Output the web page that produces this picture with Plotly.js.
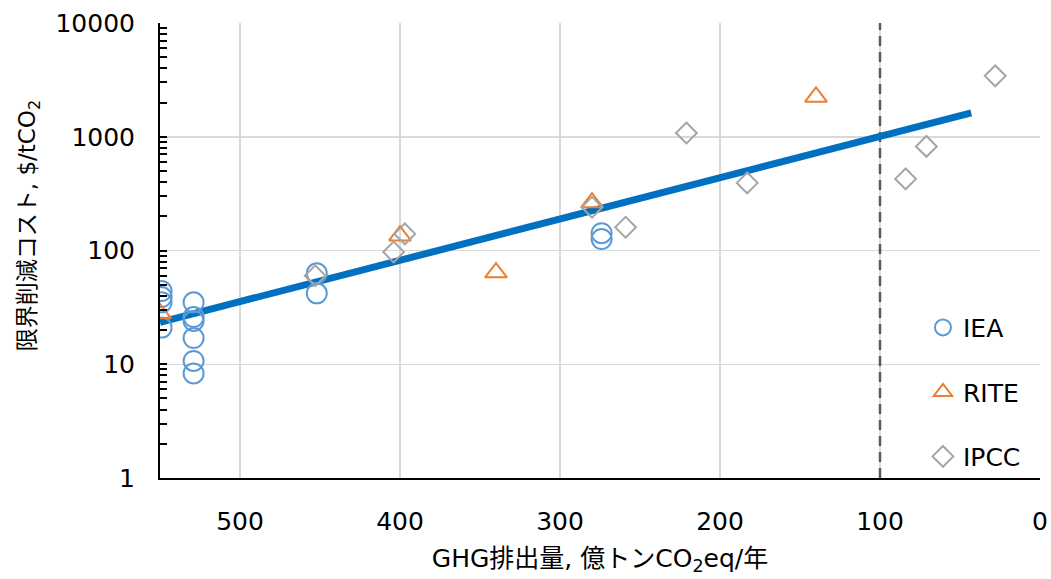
<!DOCTYPE html>
<html>
<head>
<meta charset="utf-8">
<script src="https://cdn.plot.ly/plotly-3.0.1.min.js"></script>
<style>html,body{margin:0;padding:0;background:#fff}#chart{width:1051px;height:579px}</style>
</head>
<body>
<div id="chart"></div>
<script>
// IEA (circles)
const ieaX = [549, 549, 549, 549, 529, 529, 529, 529, 529, 529, 452, 452, 274, 274];
const ieaY = [44, 39, 35, 21, 35, 26, 24, 17, 10.7, 8.3, 63, 42, 142, 126];
// RITE (triangles)
const riteX = [550, 400, 340, 280, 140];
const riteY = [28, 135, 64, 264, 2240];
// IPCC (diamonds)
const ipccX = [453, 404, 397, 280, 259, 221, 183, 84, 71, 28];
const ipccY = [60, 97, 140, 240, 160, 1080, 393, 426, 822, 3430];
// trend line endpoints
const trendX = [550, 43];
const trendY = [23.4, 1620];
// reference line at 100
const refX = [100, 100];
const refY = [1, 10000];

const FONT = 'DejaVu Sans, Noto Sans CJK JP, sans-serif';

const traces = [
  {x: refX, y: refY, mode: 'lines', line: {color: '#595959', width: 2.5, dash: '10px,6px'}, showlegend: false, hoverinfo: 'skip'},
  {x: trendX, y: trendY, mode: 'lines', line: {color: '#0070C0', width: 7}, showlegend: false, hoverinfo: 'skip'},
  {x: ieaX, y: ieaY, name: 'IEA', mode: 'markers', legendgroup: 'a',
   marker: {symbol: 'circle-open', size: 20, color: '#5B9BD5', line: {width: 2, color: '#5B9BD5'}}},
  {x: riteX, y: riteY, name: 'RITE', mode: 'markers', legendgroup: 'b',
   marker: {symbol: 'triangle-up-open', size: 19, color: '#ED7D31', line: {width: 2, color: '#ED7D31'}}},
  {x: ipccX, y: ipccY, name: 'IPCC', mode: 'markers', legendgroup: 'c',
   marker: {symbol: 'diamond-open', size: 16, color: '#A5A5A5', line: {width: 2, color: '#A5A5A5'}}}
];

const layout = {
  width: 1051, height: 579,
  margin: {l: 160, r: 11, t: 23, b: 101},
  paper_bgcolor: '#fff', plot_bgcolor: '#fff',
  separators: '.',
  font: {family: FONT, size: 25, color: '#000'},
  showlegend: true,
  legend: {x: 0.867, xanchor: 'left', y: 0.381, yanchor: 'top', bgcolor: 'rgba(0,0,0,0)',
           font: {size: 25, family: FONT, color: '#000'}, itemsizing: 'trace', tracegroupgap: 29},
  xaxis: {
    range: [550, 0], dtick: 100, tick0: 0, showgrid: true, gridcolor: '#D9D9D9', gridwidth: 1.5,
    zeroline: false, showline: true, linecolor: '#000', linewidth: 2, ticks: '',
    ticklabelstandoff: 20, tickfont: {size: 25, family: FONT},
    title: {text: 'GHG排出量, 億トンCO<sub>2</sub>eq/年', font: {size: 25, family: FONT}, standoff: 14}
  },
  yaxis: {
    type: 'log', range: [0, 4], dtick: 1, showgrid: true, gridcolor: '#D9D9D9', gridwidth: 1.5,
    zeroline: false, showline: true, linecolor: '#000', linewidth: 2,
    ticks: 'inside', ticklen: 7, tickwidth: 2, tickcolor: '#000',
    exponentformat: 'none', tickformat: 'd',
    ticklabelstandoff: 18, tickfont: {size: 25, family: FONT},
    minor: {ticks: 'inside', ticklen: 7, tickwidth: 2, tickcolor: '#000', dtick: 'D1', showgrid: false}
  },
  annotations: [{
    text: '限界削減コスト, $/tCO<sub>2</sub>', textangle: -90, xref: 'paper', yref: 'paper',
    x: -0.148, xanchor: 'center', y: 0.555, yanchor: 'middle', showarrow: false,
    font: {size: 23, family: FONT, color: '#000'}
  }]
};

Plotly.newPlot('chart', traces, layout, {displayModeBar: false, staticPlot: true});
</script>
</body>
</html>
